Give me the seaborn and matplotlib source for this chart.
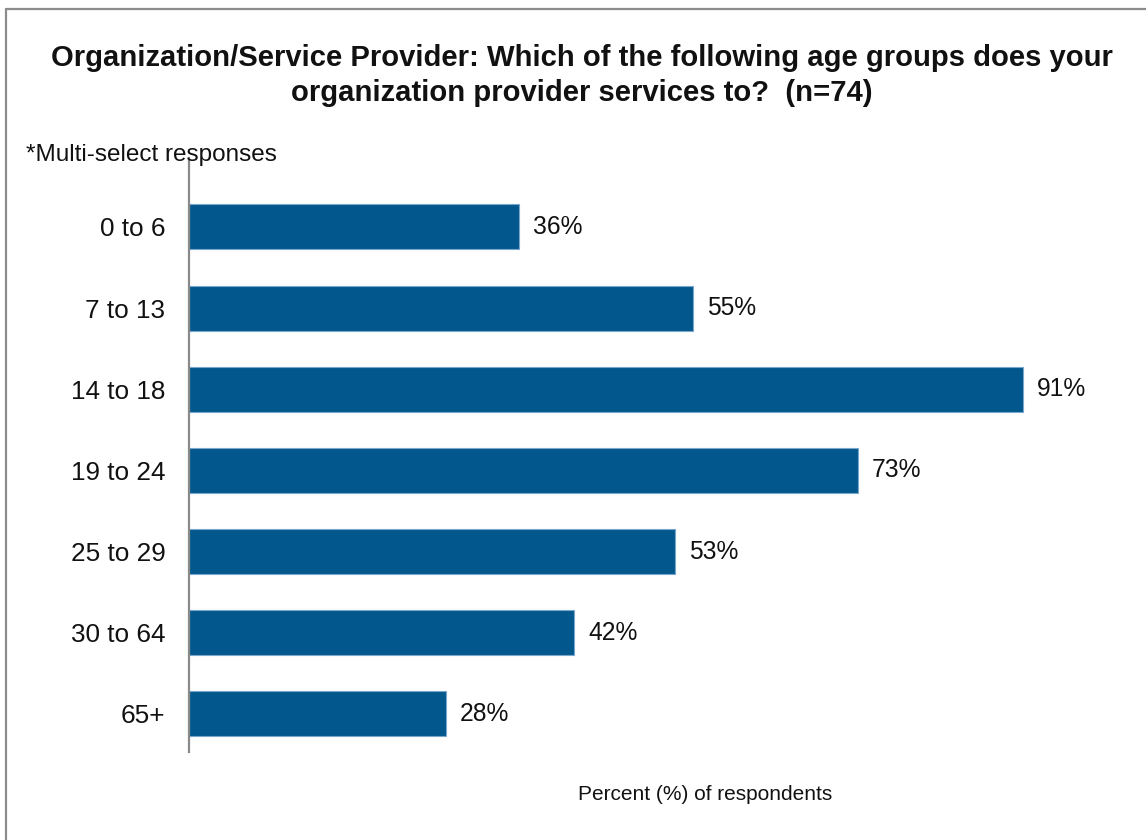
import matplotlib
matplotlib.use("Agg")
import matplotlib.pyplot as plt
from matplotlib.lines import Line2D
import seaborn as sns
import pandas as pd

age_groups = ["0 to 6", "7 to 13", "14 to 18", "19 to 24", "25 to 29", "30 to 64", "65+"]
percent = [36, 55, 91, 73, 53, 42, 28]

title = ("Organization/Service Provider: Which of the following age groups does your\n"
         "organization provider services to?  (n=74)")
note = "*Multi-select responses"
xlabel = "Percent (%) of respondents"

df = pd.DataFrame({"group": age_groups, "pct": percent})

sns.set_theme(style="white")
plt.rcParams["font.family"] = ["Liberation Sans", "DejaVu Sans"]

fig = plt.figure(figsize=(11.46, 8.4), dpi=100)
ax = fig.add_axes([0.1649, 0.1048, 0.80, 0.7071])

bar_color = "#02588C"
sns.barplot(data=df, x="pct", y="group", order=age_groups, color=bar_color,
            width=0.555, edgecolor="#7aa6cc", linewidth=0.8, saturation=1, ax=ax)

for cont in ax.containers:
    ax.bar_label(cont, labels=[f"{v}%" for v in percent], padding=10,
                 fontsize=17.7, color="#111111")

ax.set_xlim(0, 100)
ax.set_ylim(6.47, -0.85)
ax.set_xlabel("")
ax.set_ylabel("")
ax.set_xticks([])
ax.tick_params(axis="y", length=0, pad=17, labelsize=18.8, labelcolor="#111111")
for side in ["top", "right", "bottom"]:
    ax.spines[side].set_visible(False)
ax.spines["left"].set_color("#8a8a8a")
ax.spines["left"].set_linewidth(1.6)

fig.text(582 / 1146, 1 - 75.5 / 840, title, ha="center", va="center",
         fontsize=21.1, fontweight="bold", color="#111111", linespacing=1.32)
fig.text(26 / 1146, 1 - 155 / 840, note, ha="left", va="center",
         fontsize=17.5, color="#111111")
fig.text(705 / 1146, 1 - 795 / 840, xlabel, ha="center", va="center",
         fontsize=15, color="#111111")

# partial outer frame along top and left edges
frame_kw = dict(color="#8c8c8c", linewidth=1.6, transform=fig.transFigure)
fig.add_artist(Line2D([6 / 1146, 1.0], [1 - 9 / 840, 1 - 9 / 840], **frame_kw))
fig.add_artist(Line2D([6 / 1146, 6 / 1146], [0.0, 1 - 9 / 840], **frame_kw))

fig.savefig("out.png", dpi=100)
